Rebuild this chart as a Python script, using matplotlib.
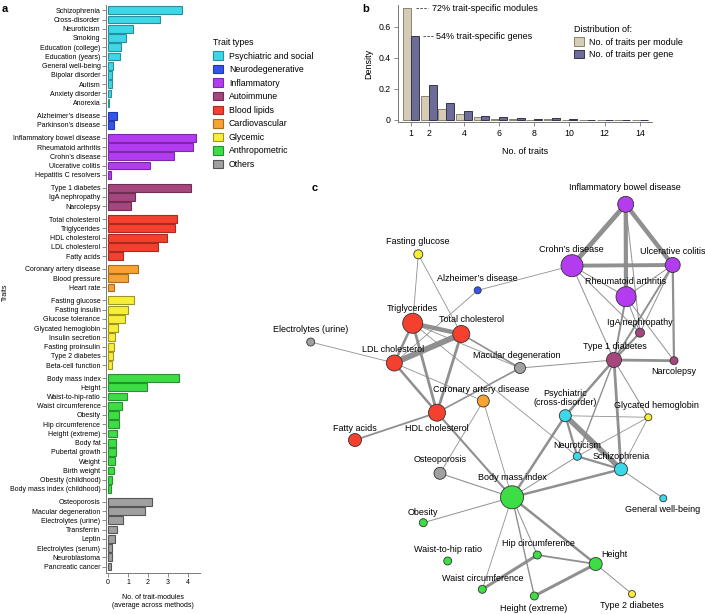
import matplotlib
matplotlib.use('Agg')
import matplotlib.pyplot as plt
import numpy as np
from matplotlib.patches import Patch
from matplotlib.collections import LineCollection

plt.rcParams['font.family'] = ['Liberation Sans', 'DejaVu Sans']

W, H = 705, 614
fig = plt.figure(figsize=(W / 100, H / 100), dpi=100)


def px_axes(l, t, r, b):
    return fig.add_axes([l / W, 1 - b / H, (r - l) / W, (b - t) / H])


# ---------------- Panel a data ----------------
group_names = ['Psychiatric and social', 'Neurodegenerative', 'Inflammatory', 'Autoimmune',
               'Blood lipids', 'Cardiovascular', 'Glycemic', 'Anthropometric', 'Others']
group_face = ['#3dd8e8', '#3355ee', '#b43cf0', '#a5467f', '#f5402f', '#f7a232', '#f7ef35',
              '#3ddd45', '#a0a0a0']
group_edge = ['#2a8f9c', '#2238a8', '#7a28a8', '#6e2e55', '#a82a20', '#a86d20', '#9c9622',
              '#28902e', '#555555']

trait_names = [
    'Schizophrenia', 'Cross-disorder', 'Neuroticism', 'Smoking', 'Education (college)',
    'Education (years)', 'General well-being', 'Bipolar disorder', 'Autism', 'Anxiety disorder',
    'Anorexia',
    'Alzheimer\u2019s disease', 'Parkinson\u2019s disease',
    'Inflammatory bowel disease', 'Rheumatoid arthritis', 'Crohn\u2019s disease',
    'Ulcerative colitis', 'Hepatitis C resolvers',
    'Type 1 diabetes', 'IgA nephropathy', 'Narcolepsy',
    'Total cholesterol', 'Triglycerides', 'HDL cholesterol', 'LDL cholesterol', 'Fatty acids',
    'Coronary artery disease', 'Blood pressure', 'Heart rate',
    'Fasting glucose', 'Fasting insulin', 'Glucose tolerance', 'Glycated hemoglobin',
    'Insulin secretion', 'Fasting proinsulin', 'Type 2 diabetes', 'Beta-cell function',
    'Body mass index', 'Height', 'Waist-to-hip-ratio', 'Waist circumference', 'Obesity',
    'Hip circumference', 'Height (extreme)', 'Body fat', 'Pubertal growth', 'Weight',
    'Birth weight', 'Obesity (childhood)', 'Body mass index (childhood)',
    'Osteoporosis', 'Macular degeneration', 'Electrolytes (urine)', 'Transferrin', 'Leptin',
    'Electrolytes (serum)', 'Neuroblastoma', 'Pancreatic cancer']
trait_values = [
    3.7, 2.6, 1.23, 0.88, 0.65, 0.62, 0.25, 0.22, 0.2, 0.15, 0.03,
    0.43, 0.3,
    4.42, 4.23, 3.28, 2.12, 0.13,
    4.17, 1.33, 1.13,
    3.47, 3.33, 2.95, 2.5, 0.77,
    1.5, 1.0, 0.32,
    1.28, 1.0, 0.85, 0.48, 0.35, 0.32, 0.27, 0.22,
    3.57, 1.95, 0.95, 0.7, 0.55, 0.57, 0.43, 0.4, 0.38, 0.35, 0.32, 0.22, 0.13,
    2.22, 1.87, 0.75, 0.45, 0.35, 0.22, 0.2, 0.17]
trait_group = [0] * 11 + [1] * 2 + [2] * 5 + [3] * 3 + [4] * 5 + [5] * 3 + [6] * 8 + [7] * 13 + [8] * 8

# ---------------- Panel b data ----------------
n_traits = np.arange(1, 15)
module_density = [0.72, 0.154, 0.069, 0.039, 0.019, 0.005, 0.004, 0.003, 0.004, 0.002, 0.002,
                  0.002, 0.002, 0.002]
gene_density = [0.54, 0.225, 0.111, 0.058, 0.028, 0.017, 0.010, 0.007, 0.014, 0.004, 0.002,
                0.002, 0.001, 0.001]

# ---------------- Panel c data ----------------
node_names = ['Inflammatory bowel disease', 'Crohn\u2019s disease', 'Ulcerative colitis',
              'Rheumatoid arthritis', 'IgA nephropathy', 'Type 1 diabetes', 'Narcolepsy',
              'Fasting glucose', 'Alzheimer\u2019s disease', 'Triglycerides', 'Total cholesterol',
              'LDL cholesterol', 'HDL cholesterol', 'Fatty acids', 'Electrolytes (urine)',
              'Macular degeneration', 'Coronary artery disease', 'Osteoporosis',
              'Psychiatric\n(cross-disorder)', 'Glycated hemoglobin', 'Neuroticism',
              'Schizophrenia', 'General well-being', 'Body mass index', 'Obesity',
              'Waist-to-hip ratio', 'Hip circumference', 'Height', 'Waist circumference',
              'Height (extreme)', 'Type 2 diabetes']
node_x = [625.7, 572, 672.7, 626, 640, 614, 674, 418.3, 477.7, 412.7, 461.3, 394.3, 437, 355,
          310.7, 520, 483.3, 440, 565.3, 648.3, 577.3, 621, 663.3, 512, 423.3, 447.7, 537.3,
          595.7, 482.3, 534.3, 632]
node_y = [204.3, 265.7, 265, 296.7, 332.7, 360, 360.7, 254.3, 290.3, 323.3, 334, 363, 412.7,
          440, 342, 368, 401, 473.3, 415.7, 417.3, 456.3, 469.3, 498.3, 497.3, 522.7, 561, 555,
          564, 589.3, 596, 594]
node_radius = [8, 11, 7.5, 10, 4.5, 7.5, 4, 4.5, 3.5, 10, 8.5, 8, 8.5, 6.5, 4, 5.5, 6, 6, 6,
               3.5, 4, 6.5, 3.5, 11.5, 4, 4, 4, 6.5, 4, 4, 3.5]
node_group = [2, 2, 2, 2, 3, 3, 3, 6, 1, 4, 4, 4, 4, 4, 8, 8, 5, 8, 0, 6, 0, 0, 0, 7, 7, 7, 7,
              7, 7, 7, 6]
label_x = [625, 571.7, 672.7, 626, 640, 615, 674, 418, 477, 412, 471.7, 393.3, 437, 355, 310.7,
           516.7, 480.7, 440, 565, 656, 577, 621, 663, 512, 423, 448.3, 538.3, 614, 482.3, 534,
           632]
label_y = [188, 249, 251, 281.7, 322.3, 346.7, 371.7, 241, 278.7, 308.7, 320, 349, 428.3, 428.3,
           329, 355.7, 389, 459.3, 398.3, 406, 445, 456.7, 510, 477.3, 512.3, 549.3, 544, 554.3,
           578.7, 608.3, 605.7]

edge_src = ['Inflammatory bowel disease', 'Inflammatory bowel disease', 'Inflammatory bowel disease',
            'Crohn\u2019s disease', 'Crohn\u2019s disease', 'Ulcerative colitis',
            'Inflammatory bowel disease', 'Ulcerative colitis', 'Ulcerative colitis',
            'Ulcerative colitis', 'Rheumatoid arthritis', 'Rheumatoid arthritis',
            'Rheumatoid arthritis', 'Crohn\u2019s disease', 'Crohn\u2019s disease',
            'Crohn\u2019s disease',
            'Type 1 diabetes', 'Type 1 diabetes', 'Type 1 diabetes', 'Type 1 diabetes',
            'Type 1 diabetes', 'Type 1 diabetes', 'Type 1 diabetes',
            'Fasting glucose', 'Fasting glucose', 'Alzheimer\u2019s disease',
            'LDL cholesterol', 'Triglycerides', 'Triglycerides', 'Triglycerides',
            'Total cholesterol', 'LDL cholesterol', 'LDL cholesterol', 'LDL cholesterol',
            'Triglycerides', 'Triglycerides', 'Total cholesterol',
            'HDL cholesterol', 'HDL cholesterol', 'HDL cholesterol',
            'Coronary artery disease', 'Coronary artery disease', 'Osteoporosis',
            'Body mass index', 'Body mass index', 'Body mass index', 'Body mass index',
            'Body mass index', 'Body mass index', 'Body mass index', 'Body mass index',
            'Height', 'Height', 'Hip circumference', 'Height',
            'Psychiatric\n(cross-disorder)', 'Psychiatric\n(cross-disorder)',
            'Psychiatric\n(cross-disorder)', 'Neuroticism', 'Neuroticism', 'Schizophrenia',
            'Schizophrenia']
edge_dst = ['Crohn\u2019s disease', 'Ulcerative colitis', 'Rheumatoid arthritis',
            'Ulcerative colitis', 'Rheumatoid arthritis', 'Rheumatoid arthritis',
            'IgA nephropathy', 'Type 1 diabetes', 'Narcolepsy',
            'IgA nephropathy', 'Type 1 diabetes', 'IgA nephropathy',
            'Narcolepsy', 'Type 1 diabetes', 'IgA nephropathy',
            'Alzheimer\u2019s disease',
            'IgA nephropathy', 'Narcolepsy', 'Macular degeneration',
            'Psychiatric\n(cross-disorder)', 'Neuroticism', 'Schizophrenia', 'Glycated hemoglobin',
            'Triglycerides', 'Total cholesterol', 'LDL cholesterol',
            'Total cholesterol', 'Total cholesterol', 'LDL cholesterol', 'HDL cholesterol',
            'HDL cholesterol', 'HDL cholesterol', 'Electrolytes (urine)', 'Coronary artery disease',
            'Macular degeneration', 'Neuroticism', 'Macular degeneration',
            'Fatty acids', 'Macular degeneration', 'Body mass index',
            'Osteoporosis', 'Body mass index', 'Body mass index',
            'Psychiatric\n(cross-disorder)', 'Schizophrenia', 'Neuroticism', 'Obesity',
            'Waist circumference', 'Hip circumference', 'Height (extreme)', 'Height',
            'Hip circumference', 'Height (extreme)', 'Waist circumference', 'Type 2 diabetes',
            'Neuroticism', 'Schizophrenia',
            'Glycated hemoglobin', 'Schizophrenia', 'Glycated hemoglobin', 'Glycated hemoglobin',
            'General well-being']
edge_weight = [3.5, 3.2, 3.0, 2.8, 0.7, 0.7, 0.7, 1.4, 1.6, 0.7, 1.4, 0.7, 0.7, 0.7, 0.7, 0.6,
               1.5, 2.0, 0.7, 1.8, 1.0, 2.0, 0.7,
               0.6, 0.6, 0.6,
               4.2, 3.2, 1.8, 2.0, 2.0, 1.8, 0.6, 0.6, 0.6, 0.6, 1.2,
               1.3, 1.2, 1.5,
               0.6, 0.6, 0.8,
               1.8, 1.8, 0.7, 0.7, 0.6, 0.7, 1.0, 1.8,
               1.3, 2.2, 2.2, 0.7,
               1.6, 3.8, 0.6, 1.6, 0.6, 0.6, 0.7]

# ================= Panel a =================
positions = []
pos = 0.0
for i, g in enumerate(trait_group):
    if i > 0:
        pos += 1.0 + (0.4 if g != trait_group[i - 1] else 0.0)
    positions.append(pos)
positions = np.array(positions)

axa = px_axes(106, 5, 200, 573)
axa.barh(positions, trait_values, height=0.85,
         color=[group_face[g] for g in trait_group],
         edgecolor=[group_edge[g] for g in trait_group], linewidth=0.8)
axa.set_ylim(60.9, -0.57)
axa.set_xlim(-0.1, 4.6)
axa.set_yticks(positions)
axa.set_yticklabels(trait_names, fontsize=5)
axa.set_xticks([0, 1, 2, 3, 4])
axa.set_xticklabels(['0', '1', '2', '3', '4'], fontsize=5)
for s in ['top', 'right']:
    axa.spines[s].set_visible(False)
for s in ['left', 'bottom']:
    axa.spines[s].set_color('#777777')
    axa.spines[s].set_linewidth(0.7)
axa.tick_params(axis='both', colors='#777777', labelcolor='black', length=3, width=0.6, pad=1)
axa.set_xlabel('No. of trait-modules\n(average across methods)', fontsize=5, labelpad=6,
               linespacing=1.3)
axa.set_ylabel('Traits', fontsize=5)
ylab = axa.yaxis.label
ylab.set_verticalalignment('center')
axa.yaxis.set_label_coords(5 / W, 1 - 292 / H, transform=fig.transFigure)

handles = [Patch(facecolor=group_face[i], edgecolor=group_edge[i], linewidth=0.8)
           for i in range(len(group_names))]
fig.legend(handles, group_names, loc='upper left', bbox_to_anchor=(213 / W, 1 - 38 / H),
           fontsize=6.3, title='Trait types', title_fontsize=6.3, frameon=False,
           handlelength=1.1, handleheight=1.1, labelspacing=0.5, handletextpad=0.7,
           borderpad=0, borderaxespad=0, alignment='left')

# ================= Panel b =================
axb = px_axes(397.5, 5, 652, 122.3)
axb.bar(n_traits - 0.225, module_density, width=0.45, color='#d6ccb6', edgecolor='#8a826e',
        linewidth=0.7, label='No. of traits per module')
axb.bar(n_traits + 0.225, gene_density, width=0.45, color='#6c6c96', edgecolor='#33334d',
        linewidth=0.7, label='No. of traits per gene')
axb.set_xlim(0.23, 14.69)
axb.set_ylim(-0.015, 0.74)
axb.set_xticks([1, 2, 4, 6, 8, 10, 12, 14])
axb.set_xticklabels(['1', '2', '4', '6', '8', '10', '12', '14'], fontsize=6.3)
axb.set_yticks([0, 0.2, 0.4, 0.6])
axb.set_yticklabels(['0', '0.2', '0.4', '0.6'], fontsize=6.3)
for s in ['top', 'right']:
    axb.spines[s].set_visible(False)
for s in ['left', 'bottom']:
    axb.spines[s].set_color('#777777')
    axb.spines[s].set_linewidth(0.7)
axb.tick_params(axis='both', colors='#777777', labelcolor='black', length=3, width=0.6, pad=2)
axb.set_ylabel('Density', fontsize=6.5, labelpad=4)
axb.set_xlabel('No. of traits', fontsize=6.5, labelpad=6)
axb.plot([1.28, 1.97], [module_density[0], module_density[0]], color='#555555', lw=0.7,
         ls=(0, (2.5, 1.5)))
axb.text(2.18, module_density[0], '72% trait-specific modules', fontsize=6.5, va='center',
         ha='left')
axb.plot([1.68, 2.23], [gene_density[0], gene_density[0]], color='#555555', lw=0.7,
         ls=(0, (2.5, 1.5)))
axb.text(2.42, gene_density[0], '54% trait-specific genes', fontsize=6.5, va='center',
         ha='left')
axb.legend(loc='upper left', bbox_to_anchor=(574 / W, 1 - 25 / H),
           bbox_transform=fig.transFigure, fontsize=6.5, title='Distribution of:',
           title_fontsize=6.5, frameon=False, handlelength=1.1, handleheight=1.1,
           labelspacing=0.35, handletextpad=0.6, borderpad=0, borderaxespad=0,
           alignment='left')

# ================= Panel c =================
axc = fig.add_axes([0, 0, 1, 1])
axc.set_xlim(0, W)
axc.set_ylim(H, 0)
axc.axis('off')
idx = {n: i for i, n in enumerate(node_names)}
segs = [[(node_x[idx[a]], node_y[idx[a]]), (node_x[idx[b]], node_y[idx[b]])]
        for a, b in zip(edge_src, edge_dst)]
lc = LineCollection(segs, linewidths=edge_weight, colors='#8a8a8a', alpha=0.95, zorder=1,
                    capstyle='round')
axc.add_collection(lc)
sizes = [(2 * r * 0.72) ** 2 for r in node_radius]
axc.scatter(node_x, node_y, s=sizes, c=[group_face[g] for g in node_group],
            edgecolors='#333333', linewidths=0.6, zorder=3)
for name, lx, ly in zip(node_names, label_x, label_y):
    axc.text(lx, ly, name, fontsize=6.5, ha='center', va='center', zorder=4, linespacing=1.05)

# panel letters
fig.text(2 / W, 1 - 9 / H, 'a', fontsize=8, fontweight='bold', ha='left', va='center')
fig.text(362 / W, 1 - 9 / H, 'b', fontsize=8, fontweight='bold', ha='left', va='center')
fig.text(312 / W, 1 - 188 / H, 'c', fontsize=8, fontweight='bold', ha='left', va='center')

fig.savefig('out.png', dpi=100)
